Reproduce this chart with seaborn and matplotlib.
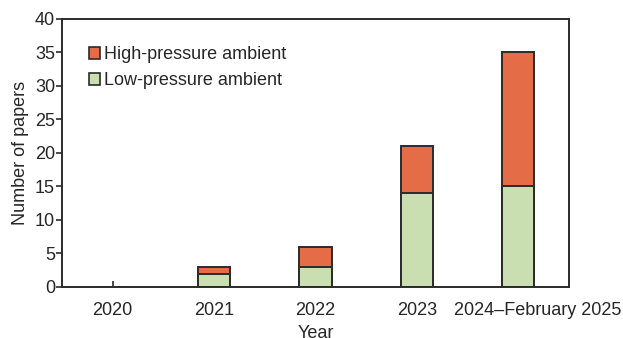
import matplotlib
matplotlib.use("Agg")
import matplotlib.pyplot as plt
import matplotlib.transforms as mtransforms
import seaborn as sns
import pandas as pd
from matplotlib.patches import Patch

sns.set_theme(style="white")
plt.rcParams["font.family"] = ["Liberation Sans", "DejaVu Sans"]

periods = ["2020", "2021", "2022", "2023", "2024\u2013February 2025"]
low_pressure = [0, 2, 3, 14, 15]
high_pressure = [0, 1, 3, 7, 20]

orange = "#E46C47"
green = "#C9DFB2"
edge = "#2b2b2b"

df = pd.DataFrame({
    "Year": periods,
    "low": low_pressure,
    "high": high_pressure,
})
df["total"] = df["low"] + df["high"]

fig = plt.figure(figsize=(6.23, 3.38), dpi=100)
ax = fig.add_axes([0.0995, 0.151, 0.8135, 0.793])

# stacked bars: full height in orange, lower segment overdrawn in green
sns.barplot(data=df, x="Year", y="total", color=orange, width=0.32,
            edgecolor=edge, linewidth=1.4, saturation=1, ax=ax)
sns.barplot(data=df, x="Year", y="low", color=green, width=0.32,
            edgecolor=edge, linewidth=1.4, saturation=1, ax=ax)

ax.set_xlim(-0.5, 4.5)
ax.set_ylim(0, 40)
ax.set_yticks(range(0, 41, 5))
ax.set_xlabel("Year", fontsize=13, labelpad=4)
ax.set_ylabel("Number of papers", fontsize=13, labelpad=4)

for s in ax.spines.values():
    s.set_visible(True)
    s.set_color(edge)
    s.set_linewidth(1.4)

ax.tick_params(axis="y", direction="out", length=4, width=1.2, color=edge,
               labelsize=13, pad=1, left=True)
ax.tick_params(axis="x", direction="in", length=4, width=1.2, color=edge,
               labelsize=13, pad=11, bottom=True)

# nudge the long last period label right so it clears its neighbour
last = ax.get_xticklabels()[-1]
last.set_transform(last.get_transform() +
                   mtransforms.ScaledTranslation(0.2, 0, fig.dpi_scale_trans))

handles = [
    Patch(facecolor=orange, edgecolor=edge, linewidth=1.2, label="High-pressure ambient"),
    Patch(facecolor=green, edgecolor=edge, linewidth=1.2, label="Low-pressure ambient"),
]
ax.legend(handles=handles, loc="upper left", bbox_to_anchor=(0.04, 0.925),
          frameon=False, fontsize=13, handlelength=0.6, handleheight=0.6,
          handletextpad=0.2, labelspacing=0.5, borderaxespad=0)

fig.savefig("out.png", dpi=100)
